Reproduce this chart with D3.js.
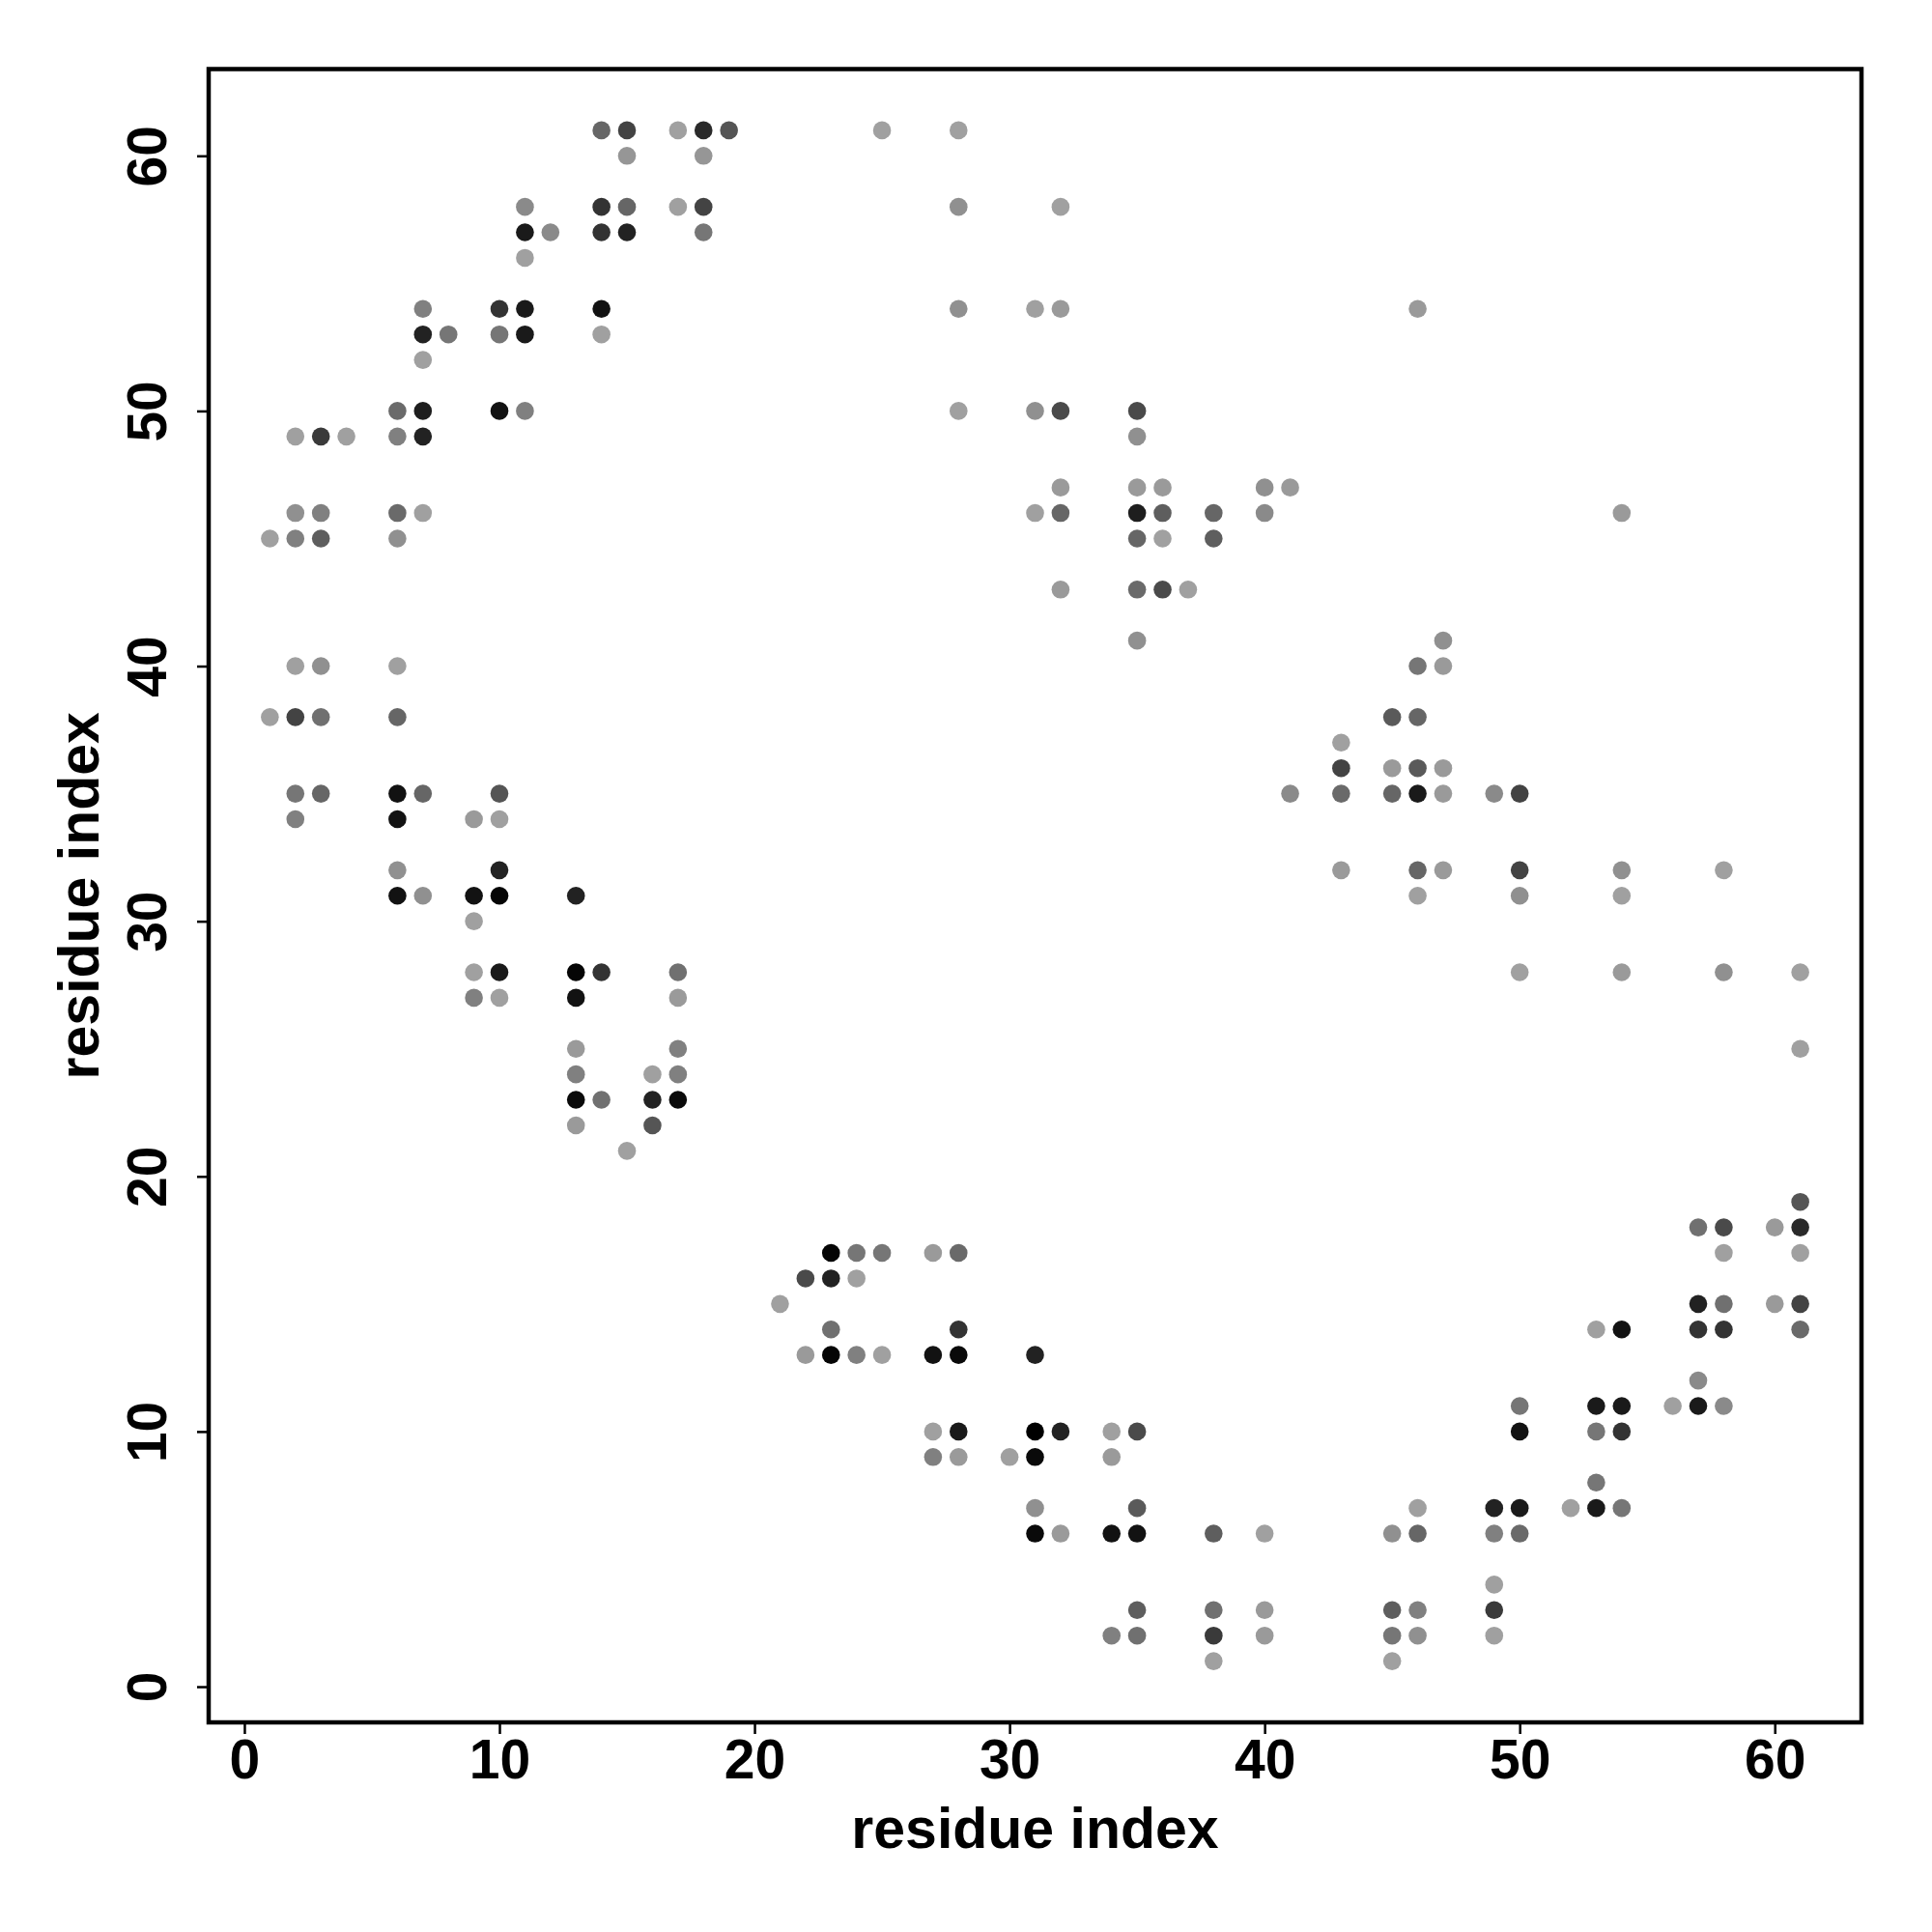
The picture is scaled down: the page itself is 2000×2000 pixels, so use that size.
<!DOCTYPE html>
<html>
<head>
<meta charset="utf-8">
<script src="https://cdn.jsdelivr.net/npm/d3@7"></script>
<style>
  html, body { margin: 0; padding: 0; background: #fff; }
  svg { display: block; }
  text { font-family: "Liberation Sans", Arial, Helvetica, sans-serif; font-weight: bold; fill: #000; }
</style>
</head>
<body>
<svg id="chart" width="2000" height="2000"></svg>
<script>
// residue i (x) of each contact
const resX = [
  14,15,17,18,19,25,28,
  15,18,
  11,14,15,17,18,28,32,
  11,12,14,15,18,
  11,
  7,10,11,14,28,31,32,46,
  7,8,10,11,14,
  7,
  6,7,10,11,28,31,32,35,
  2,3,4,6,7,35,
  32,35,36,40,41,
  2,3,6,7,31,32,35,36,38,40,54,
  1,2,3,6,35,36,38,
  32,35,36,37,
  35,47,
  2,3,6,46,47,
  1,2,3,6,45,46,
  43,
  43,45,46,47,
  2,3,6,7,10,41,43,45,46,47,49,50,
  2,6,9,10,
  6,10,43,46,47,50,54,58,
  6,7,9,10,13,46,50,54,
  9,
  9,10,13,14,17,50,54,58,61,
  9,10,13,17,
  13,17,61,
  13,16,17,
  13,14,16,17,
  13,16,
  15,
  61,
  57,58,60,61,
  23,24,25,27,28,58,61,
  22,23,24,
  21,57,58,60,61,
  23,28,53,54,57,58,61,
  22,23,24,25,27,28,31,
  57,
  50,53,54,56,57,58,
  27,28,31,32,34,35,50,53,54,
  27,28,30,31,34,
  53,
  31,35,46,49,50,52,53,54,
  31,32,34,35,38,40,45,46,49,50,
  49,
  35,38,40,45,46,49,
  34,35,38,40,45,46,49,
  38,45
];

// residue j (y) of each contact
const resY = [
  61,61,61,61,61,61,61,
  60,60,
  58,58,58,58,58,58,58,
  57,57,57,57,57,
  56,
  54,54,54,54,54,54,54,54,
  53,53,53,53,53,
  52,
  50,50,50,50,50,50,50,50,
  49,49,49,49,49,49,
  47,47,47,47,47,
  46,46,46,46,46,46,46,46,46,46,46,
  45,45,45,45,45,45,45,
  43,43,43,43,
  41,41,
  40,40,40,40,40,
  38,38,38,38,38,38,
  37,
  36,36,36,36,
  35,35,35,35,35,35,35,35,35,35,35,35,
  34,34,34,34,
  32,32,32,32,32,32,32,32,
  31,31,31,31,31,31,31,31,
  30,
  28,28,28,28,28,28,28,28,28,
  27,27,27,27,
  25,25,25,
  24,24,24,
  23,23,23,23,
  22,22,
  21,
  19,
  18,18,18,18,
  17,17,17,17,17,17,17,
  16,16,16,
  15,15,15,15,15,
  14,14,14,14,14,14,14,
  13,13,13,13,13,13,13,
  12,
  11,11,11,11,11,11,
  10,10,10,10,10,10,10,10,10,
  9,9,9,9,9,
  8,
  7,7,7,7,7,7,7,7,
  6,6,6,6,6,6,6,6,6,6,
  4,
  3,3,3,3,3,3,
  2,2,2,2,2,2,2,
  1,1
];

// contact strength (0 = light grey, 1 = black)
const prob = [
  0.36,0.58,0,0.74,0.47,0,0,
  0.06,0.06,
  0.14,0.68,0.36,0,0.58,0.10,0,
  0.84,0.14,0.68,0.79,0.26,
  0,
  0.20,0.68,0.84,0.89,0.10,0,0.04,0.04,
  0.79,0.26,0.26,0.84,0,
  0,
  0.34,0.81,0.89,0.20,0,0.10,0.54,0.54,
  0,0.64,0,0.20,0.79,0.10,
  0.04,0.04,0.04,0.10,0.04,
  0.10,0.20,0.34,0,0,0.36,0.81,0.41,0.36,0.14,0.04,
  0,0.20,0.41,0.10,0.36,0,0.41,
  0.04,0.34,0.54,0,
  0.10,0.10,
  0,0.10,0,0.26,0.04,
  0,0.58,0.30,0.36,0.44,0.36,
  0,
  0.58,0.04,0.44,0.04,
  0.26,0.36,0.89,0.36,0.47,0.14,0.34,0.36,0.84,0.04,0.14,0.58,
  0.20,0.89,0.04,0,
  0.10,0.79,0.04,0.36,0.04,0.58,0.10,0,
  0.89,0.10,0.89,0.97,0.79,0,0.10,0,
  0,
  0,0.84,0.97,0.68,0.30,0,0.04,0.10,0,
  0.20,0,0.89,0.04,
  0.04,0.20,0,
  0.20,0,0.20,
  0.94,0.30,0.79,0.94,
  0.04,0.47,
  0,
  0.47,
  0.30,0.54,0.04,0.74,
  0.97,0.26,0.26,0.04,0.34,0,0,
  0.54,0.79,0,
  0,0.79,0.30,0.04,0.58,
  0.30,0.68,0,0.89,0.68,0.68,0.34,
  0.04,0.97,0.20,0,0.89,0.94,0.79,
  0.14,
  0.26,0.84,0.84,0,0.84,0.14,
  0,0.84,1.00,0.79,0,0.54,0.89,0.26,0.68,
  0.20,0.04,0,0.94,0.04,
  0.26,
  0.10,0.44,0,0.79,0.84,0,0.84,0.26,
  0.94,0.04,0.89,0.89,0.41,0,0.10,0.36,0.20,0.34,
  0,
  0.41,0.30,0.04,0.41,0.20,0.64,
  0.20,0.30,0.64,0.04,0.26,0.10,0,
  0,0
];

const xTicks = [0, 10, 20, 30, 40, 50, 60];
const yTicks = [0, 10, 20, 30, 40, 50, 60];
const xTitle = "residue index";
const yTitle = "residue index";

const data = resX.map((x, i) => ({ x: x, y: resY[i], p: prob[i] }));

const box = { left: 216, right: 1927, top: 71.5, bottom: 1783 };
const svg = d3.select("#chart");

const x = d3.scaleLinear().domain([-1.4, 63.4]).range([box.left, box.right]);
const y = d3.scaleLinear().domain([-1.4, 63.4]).range([box.bottom, box.top]);
const shade = d3.scaleLinear().domain([0, 1]).range(["#a0a0a0", "#000000"]);

// points
svg.append("g")
  .selectAll("circle")
  .data(data)
  .enter().append("circle")
  .attr("cx", d => x(d.x))
  .attr("cy", d => y(d.y))
  .attr("r", 9.3)
  .attr("fill", d => shade(d.p));

// x axis
const gx = svg.append("g")
  .attr("transform", `translate(0,${box.bottom})`)
  .call(d3.axisBottom(x).tickValues(xTicks).tickSize(12).tickPadding(6).tickFormat(d3.format("d")));
gx.select(".domain").remove();
gx.selectAll(".tick line").attr("stroke", "#000").attr("stroke-width", 2.5);
gx.selectAll(".tick text")
  .attr("dy", null)
  .attr("y", 58)
  .style("font-size", "57px")
  .style("font-family", '"Liberation Sans", Arial, sans-serif')
  .style("font-weight", "bold")
  .attr("fill", "#000");

// y axis
const gy = svg.append("g")
  .attr("transform", `translate(${box.left},0)`)
  .call(d3.axisLeft(y).tickValues(yTicks).tickSize(12).tickPadding(6).tickFormat(d3.format("d")));
gy.select(".domain").remove();
gy.selectAll(".tick line").attr("stroke", "#000").attr("stroke-width", 2.5);
gy.selectAll(".tick text")
  .attr("x", null)
  .attr("dy", null)
  .attr("text-anchor", "middle")
  .attr("transform", `translate(${172 - box.left},0) rotate(-90)`)
  .style("font-size", "57px")
  .style("font-family", '"Liberation Sans", Arial, sans-serif')
  .style("font-weight", "bold")
  .attr("fill", "#000");

// frame
svg.append("rect")
  .attr("x", box.left)
  .attr("y", box.top)
  .attr("width", box.right - box.left)
  .attr("height", box.bottom - box.top)
  .attr("fill", "none")
  .attr("stroke", "#000")
  .attr("stroke-width", 4.5);

// titles
svg.append("text")
  .attr("x", (box.left + box.right) / 2)
  .attr("y", 1913)
  .attr("text-anchor", "middle")
  .style("font-size", "59px")
  .text(xTitle);

svg.append("text")
  .attr("transform", `translate(102,${(box.top + box.bottom) / 2}) rotate(-90)`)
  .attr("text-anchor", "middle")
  .style("font-size", "59px")
  .text(yTitle);
</script>
</body>
</html>
